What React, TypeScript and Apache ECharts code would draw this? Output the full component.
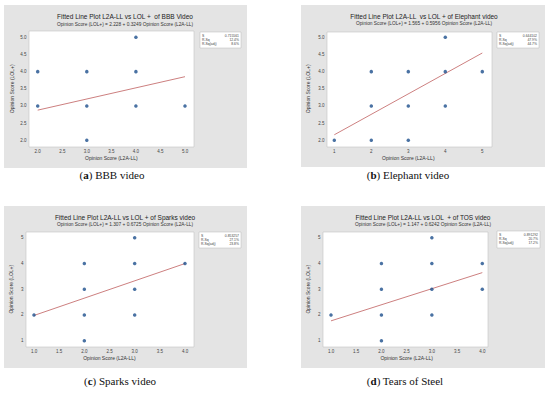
import React, { useEffect, useRef } from "react";
import * as echarts from "echarts";

// ---------- data ----------
const bbbPoints = [[2, 4], [2, 3], [3, 4], [3, 3], [3, 2], [4, 5], [4, 4], [4, 3], [5, 3]];
const bbbFitLine = [[2, 2.878], [5, 3.853]];
const bbbStats = ["0.715561", "12.4%", "8.6%"];

const elephantPoints = [[1, 2], [2, 4], [2, 3], [2, 2], [3, 4], [3, 3], [3, 2], [4, 5], [4, 4], [4, 3], [5, 4]];
const elephantFitLine = [[1, 2.161], [5, 4.543]];
const elephantStats = ["0.644102", "47.9%", "44.7%"];

const sparksPoints = [[1, 2], [2, 4], [2, 3], [2, 2], [2, 1], [3, 5], [3, 4], [3, 3], [3, 2], [4, 4]];
const sparksFitLine = [[1, 1.98], [4, 3.997]];
const sparksStats = ["0.853257", "27.1%", "23.8%"];

const tosPoints = [[1, 2], [2, 4], [2, 3], [2, 2], [2, 1], [3, 5], [3, 4], [3, 3], [3, 2], [4, 4], [4, 3]];
const tosFitLine = [[1, 1.771], [4, 3.644]];
const tosStats = ["0.891292", "20.7%", "17.2%"];

const statLabels = ["S", "R-Sq", "R-Sq(adj)"];

const titles = [
  "Fitted Line Plot L2A-LL vs LOL +  of BBB Video",
  "Fitted Line Plot L2A-LL  vs LOL + of Elephant video",
  "Fitted Line Plot L2A-LL vs LOL + of Sparks video",
  "Fitted Line Plot L2A-LL vs LOL  + of TOS video",
];
const subtitles = [
  "Opinion Score (LOL+) = 2.228 + 0.3249 Opinion Score (L2A-LL)",
  "Opinion Score (LOL+) = 1.565 + 0.5956 Opinion Score (L2A-LL)",
  "Opinion Score (LOL+) = 1.307 + 0.6725 Opinion Score (L2A-LL)",
  "Opinion Score (LOL+) = 1.147 + 0.6242 Opinion Score (L2A-LL)",
];
const captionLetters = ["a", "b", "c", "d"];
const captionTexts = ["BBB video", "Elephant video", "Sparks video", "Tears of Steel"];

// axis ranges [min, max, interval, decimals]
const xRanges = [[2, 5, 0.5, 1], [1, 5, 1, 0], [1, 4, 0.5, 1], [1, 4, 0.5, 1]];
const yRanges = [[2, 5, 0.5, 1], [2, 5, 0.5, 1], [1, 5, 1, 0], [1, 5, 1, 0]];

const xName = "Opinion Score (L2A-LL)";
const yName = "Opinion Score (LOL+)";

// ---------- layout ----------
const layouts = [
  { bg: [4, 5, 243, 163], frame: [29, 31, 165, 116], grid: [37.7, 37.3, 147.3, 103], title: [125, 16, 24], legend: [200, 32, 41, 16], yGap: 15, caption: [112, 175] },
  { bg: [301, 5, 244, 162], frame: [327, 32, 165, 115], grid: [334.3, 37.3, 148, 103], title: [424, 16, 23.5], legend: [497, 32, 42, 16], yGap: 17, caption: [408, 175] },
  { bg: [4, 206, 243, 162], frame: [26, 232, 168, 115], grid: [34, 237.7, 151, 103], title: [125, 217.3, 224.3], legend: [199, 232, 42, 16], yGap: 13, caption: [120, 381] },
  { bg: [301, 206, 244, 162], frame: [323, 232, 165, 115], grid: [331, 237.7, 151.3, 103], title: [423, 217.3, 224.3], legend: [497, 231, 43, 17], yGap: 13, caption: [405, 381] },
];

const pointsList = [bbbPoints, elephantPoints, sparksPoints, tosPoints];
const fitList = [bbbFitLine, elephantFitLine, sparksFitLine, tosFitLine];
const statsList = [bbbStats, elephantStats, sparksStats, tosStats];

const FONT = "'Liberation Sans', Arial, sans-serif";
const POINT = "#1d4f8c";
const LINE = "#cd8080";

export default function App() {
  const ref = useRef<HTMLDivElement>(null);

  useEffect(() => {
    if (!ref.current) return;
    const chart = echarts.init(ref.current, undefined, { renderer: "svg" });

    const grids: any[] = [];
    const xAxes: any[] = [];
    const yAxes: any[] = [];
    const series: any[] = [];
    const graphics: any[] = [];

    layouts.forEach((L, i) => {
      const [gl, gt, gw, gh] = L.grid;
      const [fl, ft, fw, fh] = L.frame;
      grids.push({ left: gl, top: gt, width: gw, height: gh, containLabel: false });
      const [xmin, xmax, xint, xdec] = xRanges[i];
      const [ymin, ymax, yint, ydec] = yRanges[i];
      xAxes.push({
        type: "value", gridIndex: i, min: xmin, max: xmax, interval: xint,
        offset: ft + fh - (gt + gh),
        axisLine: { show: false }, axisTick: { show: false }, splitLine: { show: false },
        axisLabel: { fontSize: 4.5, color: "#444", margin: 2, fontFamily: FONT, formatter: (v: number) => v.toFixed(xdec) },
        name: xName, nameLocation: "middle", nameGap: 8,
        nameTextStyle: { fontSize: 5, color: "#333", fontFamily: FONT },
      });
      yAxes.push({
        type: "value", gridIndex: i, min: ymin, max: ymax, interval: yint,
        offset: gl - fl,
        axisLine: { show: false }, axisTick: { show: false }, splitLine: { show: false },
        axisLabel: { fontSize: 4.5, color: "#444", margin: 2.5, fontFamily: FONT, formatter: (v: number) => v.toFixed(ydec) },
        name: yName, nameLocation: "middle", nameGap: L.yGap,
        nameTextStyle: { fontSize: 5, color: "#333", fontFamily: FONT },
      });
      series.push({
        type: "line", xAxisIndex: i, yAxisIndex: i, data: fitList[i], showSymbol: false, symbol: "none",
        lineStyle: { color: LINE, width: 1 }, clip: false, silent: true, z: 2,
      });
      series.push({
        type: "scatter", xAxisIndex: i, yAxisIndex: i, data: pointsList[i], symbolSize: 3.5,
        itemStyle: { color: POINT }, clip: false, z: 3,
      });

      const [bx, by, bw, bh] = L.bg;
      graphics.push({ type: "rect", z: -20, shape: { x: bx, y: by, width: bw, height: bh }, style: { fill: "#e4e4e4" } });
      graphics.push({ type: "rect", z: -19, shape: { x: fl, y: ft, width: fw, height: fh }, style: { fill: "#ffffff", stroke: "#c4c4c4", lineWidth: 0.6 } });
      const [tx, ty1, ty2] = L.title;
      graphics.push({ type: "text", z: 10, x: tx, y: ty1, style: { text: titles[i], fontSize: 6.5, fill: "#222", fontFamily: FONT, align: "center", verticalAlign: "middle" } });
      graphics.push({ type: "text", z: 10, x: tx, y: ty2, style: { text: subtitles[i], fontSize: 4.8, fill: "#333", fontFamily: FONT, align: "center", verticalAlign: "middle" } });
      const [lx, ly, lw, lh] = L.legend;
      graphics.push({ type: "rect", z: 5, shape: { x: lx, y: ly, width: lw, height: lh }, style: { fill: "#ffffff", stroke: "#b8b8b8", lineWidth: 0.5 } });
      statLabels.forEach((s, k) => {
        const yy = ly + 3.8 + k * 4.2;
        graphics.push({ type: "text", z: 10, x: lx + 2, y: yy, style: { text: s, fontSize: 3.4, fill: "#444", fontFamily: FONT, align: "left", verticalAlign: "middle" } });
        graphics.push({ type: "text", z: 10, x: lx + lw - 2, y: yy, style: { text: statsList[i][k], fontSize: 3.4, fill: "#444", fontFamily: FONT, align: "right", verticalAlign: "middle" } });
      });
      const [cx, cy] = L.caption;
      graphics.push({
        type: "text", z: 10, x: cx, y: cy,
        style: {
          text: "({b|" + captionLetters[i] + "}) " + captionTexts[i],
          fontSize: 11, fill: "#111", fontFamily: "'Liberation Serif', 'DejaVu Serif', serif",
          align: "center", verticalAlign: "middle",
          rich: { b: { fontSize: 11, fontWeight: "bold", fill: "#111", fontFamily: "'Liberation Serif', serif" } },
        },
      });
    });

    chart.setOption({
      animation: false,
      backgroundColor: "#ffffff",
      grid: grids,
      xAxis: xAxes,
      yAxis: yAxes,
      series,
      graphic: { elements: graphics },
    });
    return () => chart.dispose();
  }, []);

  return <div ref={ref} style={{ position: "absolute", left: 0, top: 0, width: 550, height: 393 }} />;
}
